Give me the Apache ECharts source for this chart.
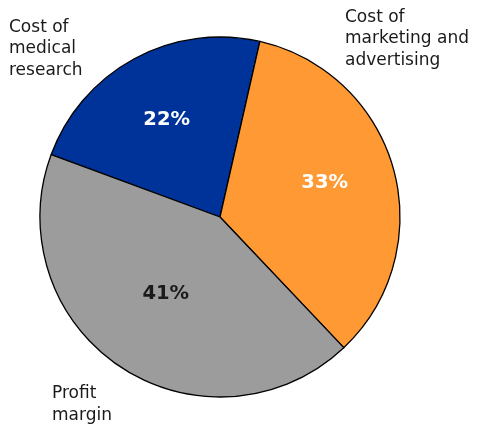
<!DOCTYPE html>
<html>
<head>
<meta charset="utf-8">
<script src="https://cdn.jsdelivr.net/npm/echarts@6/dist/echarts.min.js"></script>
<style>html,body{margin:0;padding:0;background:#fff;}#c{width:479px;height:427px;}</style>
</head>
<body>
<div id="c"></div>
<script>
var categories = ['Cost of\nmedical\nresearch', 'Cost of\nmarketing and\nadvertising', 'Profit\nmargin'];
var values = [22, 33, 41];
var colors = ['#003399', '#FF9933', '#9C9C9C'];
var insideLabelColors = ['#ffffff', '#ffffff', '#1a1a1a'];

var nameLabelPos = [[9, 16.5], [345, 6.5], [52, 383]];
var pctShift = [[-9, -15], [15, -9], [-3, -1]];

var chart = echarts.init(document.getElementById('c'), null, {renderer: 'canvas'});
var slices = categories.map(function (n, i) {
  return { name: n, value: values[i], itemStyle: { color: colors[i] } };
});
var overlay = categories.map(function (n, i) {
  return { name: n, value: values[i], label: { color: insideLabelColors[i] } };
});
chart.setOption({
  animation: false,
  series: [
    {
      type: 'pie',
      center: [220, 217],
      radius: [0, 180],
      startAngle: 159.7,
      clockwise: true,
      avoidLabelOverlap: false,
      data: slices,
      itemStyle: { borderColor: '#000', borderWidth: 1.3 },
      label: {
        show: true,
        position: 'outside',
        formatter: '{b}',
        color: '#1a1a1a',
        fontFamily: 'DejaVu Sans',
        fontSize: 17,
        lineHeight: 21.5
      },
      labelLine: { show: false },
      labelLayout: function (p) {
        var q = nameLabelPos[p.dataIndex];
        return { x: q[0], y: q[1], align: 'left', verticalAlign: 'top' };
      },
      emphasis: { disabled: true }
    },
    {
      type: 'pie',
      center: [220, 217],
      radius: [0, 180],
      startAngle: 159.7,
      clockwise: true,
      silent: true,
      avoidLabelOverlap: false,
      data: overlay,
      itemStyle: { color: 'rgba(0,0,0,0)', borderWidth: 0 },
      label: {
        show: true,
        position: 'inside',
        formatter: '{c}%',
        fontFamily: 'DejaVu Sans',
        fontWeight: 'bold',
        fontSize: 19.5
      },
      labelLine: { show: false },
      labelLayout: function (p) {
        var s = pctShift[p.dataIndex];
        return { dx: s[0], dy: s[1] };
      },
      emphasis: { disabled: true }
    }
  ]
});
</script>
</body>
</html>
